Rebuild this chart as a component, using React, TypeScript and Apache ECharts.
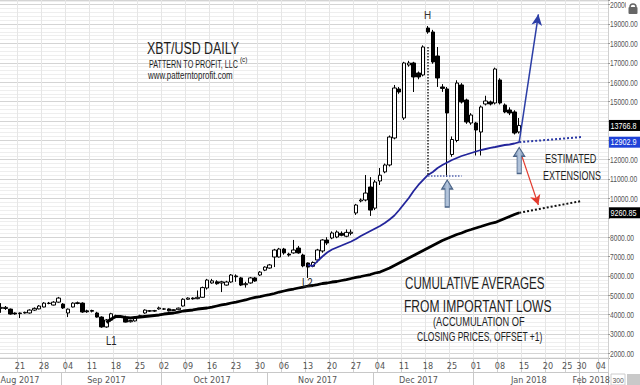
import React, { useEffect, useRef } from "react";
import * as echarts from "echarts";

// ---------- DATA ----------
// Daily candles (trading days only), [open, close, low, high]
const candles: number[][] = [
  [4330, 4380, 4100, 4600], [4320, 4380, 4250, 4450], [4290, 4035, 4000, 4320], [4090, 4040, 4000, 4120],
  [4060, 4090, 3830, 4120], [4090, 4120, 4060, 4160], [4090, 4240, 4060, 4280], [4240, 4330, 4200, 4380],
  [4300, 4450, 4280, 4500], [4400, 4600, 4380, 4650], [4580, 4600, 4540, 4660], [4500, 4650, 4480, 4700],
  [4650, 4860, 4620, 4920], [4550, 4350, 4300, 4600], [4090, 4290, 3880, 4320], [4400, 4600, 4380, 4640],
  [4580, 4620, 4540, 4680], [4600, 4140, 4100, 4640], [4200, 4150, 4100, 4260], [4180, 4220, 4120, 4260],
  [4090, 3880, 3850, 4150], [3880, 3370, 3330, 3920], [3370, 3730, 3330, 3780], [3720, 4050, 3650, 4100],
  [3950, 3880, 3840, 4000], [3880, 3930, 3850, 3980], [3880, 3620, 3600, 3950], [3640, 3700, 3600, 3740],
  [3680, 3880, 3650, 3920], [3900, 3950, 3850, 4000], [4090, 4240, 4050, 4280], [4200, 4190, 4150, 4240],
  [4190, 4210, 4150, 4250], [4300, 4350, 4260, 4420], [4300, 4290, 4250, 4340], [4300, 4200, 4170, 4330],
  [4220, 4260, 4190, 4290], [4260, 4340, 4240, 4370], [4450, 4800, 4420, 4850], [4800, 4860, 4770, 4900],
  [4860, 4820, 4780, 4900], [4830, 4900, 4800, 5250], [4900, 5400, 4880, 5450], [5380, 5790, 5300, 5850],
  [5640, 5750, 5600, 5850], [5700, 5600, 5550, 5780], [5640, 5700, 5170, 5750], [5530, 5690, 5500, 5750],
  [5690, 6050, 5650, 6100], [6000, 5960, 5700, 6080], [5900, 5530, 5480, 5950], [5550, 5600, 5400, 5700],
  [5640, 5900, 5600, 5950], [5900, 5740, 5700, 5950], [6050, 6200, 6000, 6250], [6300, 6460, 6250, 6500],
  [6410, 6570, 6380, 6620], [6980, 7340, 6460, 7400], [6980, 7390, 6950, 7450], [7390, 7190, 7100, 7450],
  [7130, 7080, 7000, 7200], [7190, 7340, 7150, 7860], [7440, 7190, 7150, 7550], [7080, 6520, 6450, 7150],
  [6670, 6460, 5900, 6700], [6500, 6700, 6450, 6750], [6825, 7341, 6700, 7400], [7290, 7857, 7200, 7900],
  [7857, 7700, 7600, 8000], [7960, 8218, 7900, 8300], [8011, 8269, 7950, 8350], [8200, 8100, 8050, 8300],
  [8050, 8250, 8000, 8400], [8200, 8260, 8100, 8400], [9250, 9663, 9150, 9720], [9870, 9920, 9800, 10000],
  [9921, 10280, 9850, 11211], [10590, 9400, 9100, 11100], [9500, 10850, 9400, 10950], [10900, 11200, 10695, 11570],
  [11370, 11727, 11300, 11800], [11727, 13171, 11650, 13250], [13120, 15700, 13050, 15855], [15648, 15493, 15400, 15750],
  [14152, 16990, 14050, 17050], [16887, 16990, 16800, 17100], [16990, 16268, 15493, 17050], [16474, 16268, 16150, 16550],
  [16371, 17815, 16300, 17900], [18795, 18589, 18500, 18900], [18589, 17041, 16950, 18700], [17350, 16216, 15752, 17815],
  [15752, 15680, 15500, 15900], [15650, 14410, 11108, 15750], [12268, 13042, 12150, 13200], [12991, 15958, 12900, 16100],
  [15855, 14978, 14900, 15950], [15081, 13946, 13850, 15150], [13894, 14307, 13800, 14400], [13894, 13532, 12216, 13950],
  [13429, 14720, 12216, 14800], [14874, 15029, 14800, 15300], [14978, 14874, 14800, 15050], [14926, 16680, 14850, 16750],
  [16113, 14926, 14850, 16200], [14823, 14462, 14400, 14900], [14565, 14410, 14300, 14700], [14462, 13378, 13300, 14550],
  [13429, 13767, 13350, 14152],
];

// Cumulative average from L1 (black), starting at candle index 22
const L1_INDEX = 22;
const avgFromL1: number[] = [
  3600, 3780, 3909, 3909, 3858, 3832, 3858, 3883, 3909, 3935, 3961, 3987, 4038, 4064, 4090, 4141,
  4193, 4219, 4245, 4296, 4322, 4348, 4399, 4451, 4503, 4554, 4606, 4657, 4709, 4761, 4838, 4890,
  4941, 4993, 5044, 5096, 5173, 5225, 5277, 5328, 5380, 5431, 5483, 5509, 5560, 5612, 5638, 5689,
  5715, 5767, 5818, 5870, 5922, 5973, 6025, 6076, 6154, 6205, 6309, 6412, 6541, 6670, 6799, 6928,
  7057, 7186, 7315, 7444, 7573, 7702, 7831, 7934, 8037, 8140, 8218, 8321, 8398, 8476, 8553, 8631,
  8708, 8760, 8863, 8966, 9069, 9172, 9260.85,
];

// Cumulative average from L2 (blue), starting at candle index 64
const L2_INDEX = 64;
const avgFromL2: number[] = [
  6560, 6515, 6773, 7006, 7212, 7367, 7470, 7573, 7676, 7779, 7908, 8063, 8192, 8321, 8450, 8579,
  8734, 8914, 9120, 9404, 9714, 10024, 10385, 10695, 10953, 11211, 11366, 11572, 11727, 11856, 11985,
  12088, 12191, 12268, 12346, 12423, 12500, 12552, 12604, 12655, 12707, 12758, 12784, 12836, 12902.9,
];

const peakIndex = 89;
const peakLevel = 17815;
const supportLevel = 11159;
const supportEndIndex = 96;
const extEndIndex = 121;
const blueExt = [12902.9, 13170];
const blackExt = [9260.85, 9869];
const arrowEndIndex = 112;
const blueArrowTarget = 19500;
const redArrowStart = 12600;
const redArrowTarget = 9660;
const upArrow1 = { index: 93, level: 10256 };
const upArrow2 = { index: 108, level: 11959 };

// Right-axis price labels (14000, 13000 and 9000 are hidden behind the price boxes)
const yTickValues = [2000, 3000, 4000, 5000, 6000, 7000, 8000, 10000, 11000, 12000, 15000, 16000, 17000, 18000, 19000, 20000];
const priceBoxes = [
  { value: 13766.8, text: "13766.8", bg: "#000000" },
  { value: 12902.9, text: "12902.9", bg: "#1f42d8" },
  { value: 9260.85, text: "9260.85", bg: "#000000" },
];

// Axis tick labels
const weekTickIdx = [4, 9, 14, 19, 24, 29, 34, 39, 44, 49, 54, 59, 64, 69, 74, 79, 84, 89, 94, 99, 104, 109, 114, 118, 121, 125];
const weekTickText = ["21", "28", "04", "11", "18", "25", "02", "09", "16", "23", "30", "06", "13", "20", "27", "04", "11", "18", "25", "01", "08", "15", "20", "25", "30", "04"];
const monthLabelIdx = [4, 22, 44, 66, 87, 110, 123];
const monthLabelText = ["Aug 2017", "Sep 2017", "Oct 2017", "Nov 2017", "Dec 2017", "Jan 2018", "Feb 2018"];
const monthSepIdx = [13, 34, 56, 78, 99, 121];

const CATEGORY_COUNT = 127;
function buildDays(): string[] {
  const out: string[] = [];
  let t = Date.UTC(2017, 7, 15);
  while (out.length < CATEGORY_COUNT) {
    const d = new Date(t);
    const wd = d.getUTCDay();
    if (wd !== 0 && wd !== 6) out.push(d.toISOString().slice(0, 10));
    t += 86400000;
  }
  return out;
}

const NARROW = "'Liberation Sans Narrow', 'Arial Narrow', 'DejaVu Sans Condensed', sans-serif";
const SANS = "'Liberation Sans', Arial, sans-serif";
const ARROW_PATH = "path://M5,0 L10,9 L7,9 L7,27 L3,27 L3,9 L0,9 Z";

function pad(start: number, vals: number[]): (number | string)[] {
  const out: (number | string)[] = [];
  for (let i = 0; i < start; i++) out.push("-");
  return out.concat(vals);
}

function txt(text: string, x: number, y: number, size: number, sx: number, fill = "#1e1e1e", z = 10) {
  return {
    type: "text",
    x,
    y,
    scaleX: sx,
    silent: true,
    z,
    style: {
      text,
      font: `${size}px ${SANS}`,
      fill,
      align: "left",
      verticalAlign: "middle",
    },
  };
}

export default function App() {
  const ref = useRef<HTMLDivElement>(null);
  useEffect(() => {
    if (!ref.current) return;
    const chart = echarts.init(ref.current, null, { renderer: "svg" });
    const days = buildDays();
    const weekMap: Record<number, string> = {};
    weekTickIdx.forEach((v, i) => (weekMap[v] = weekTickText[i]));
    const monthMap: Record<number, string> = {};
    monthLabelIdx.forEach((v, i) => (monthMap[v] = monthLabelText[i]));
    const sepSet = new Set(monthSepIdx);

    const dotted = (color: string, width: number) => ({ type: "dotted", color, width, opacity: 1 });

    const staticGraphics: any[] = [
      txt("XBT/USD DAILY", 147, 48, 16, 0.775),
      txt("PATTERN TO PROFIT, LLC", 149, 64, 11, 0.655),
      txt("(c)", 240, 59, 7.5, 0.85),
      txt("www.patterntoprofit.com", 148, 76, 10, 0.79),
      txt("H", 424, 15, 11, 0.9, "#333"),
      txt("L1", 106, 341, 12, 0.8, "#222"),
      txt("L2", 302, 283, 12, 0.8, "#222"),
      txt("ESTIMATED", 545, 158, 12, 0.76),
      txt("EXTENSIONS", 543, 175, 12, 0.75),
      txt("CUMULATIVE AVERAGES", 405, 283, 16, 0.726),
      txt("FROM IMPORTANT LOWS", 404, 306, 16, 0.755),
      txt("(ACCUMULATION OF", 433, 322, 12, 0.77),
      txt("CLOSING PRICES, OFFSET +1)", 417, 337, 12, 0.71),
      // lock icon at top right
      { type: "rect", z: 100, silent: true, shape: { x: 626, y: 0, width: 14, height: 14 }, style: { fill: "#ffffff" } },
      { type: "arc", z: 101, silent: true, shape: { cx: 633, cy: 7, r: 3, startAngle: Math.PI, endAngle: 2 * Math.PI }, style: { stroke: "#666", lineWidth: 1.5, fill: "none" } },
      { type: "rect", z: 101, silent: true, shape: { x: 628.5, y: 7, width: 9, height: 7, r: 1 }, style: { fill: "#666" } },
      // bottom-right control
      { type: "rect", z: 100, silent: true, shape: { x: 610, y: 373, width: 30, height: 12 }, style: { fill: "#ffffff" } },
      { type: "rect", z: 101, silent: true, shape: { x: 611, y: 374, width: 14, height: 11 }, style: { fill: "#fff", stroke: "#cccccc", lineWidth: 1 } },
      txt("300", 612.5, 380, 8, 0.85, "#555", 102),
      { type: "rect", z: 101, silent: true, shape: { x: 627, y: 374, width: 13, height: 11 }, style: { fill: "#c9c9c9" } },
    ];

    const option: any = {
      animation: false,
      backgroundColor: "#ffffff",
      grid: { left: -1.6, top: 0, width: 609.6, height: 358, outerBoundsMode: "none", containLabel: false },
      xAxis: [
        {
          type: "category",
          data: days,
          boundaryGap: true,
          position: "bottom",
          axisLine: { show: true, lineStyle: { color: "#c8c8c8" } },
          axisTick: { show: true, length: 14, interval: (i: number) => i in weekMap, lineStyle: { color: "#d0d0d0" } },
          axisLabel: {
            show: true,
            interval: (i: number) => i in weekMap,
            formatter: (_v: string, i: number) => weekMap[i] || "",
            margin: 3,
            fontSize: 9,
            color: "#555",
            fontFamily: NARROW,
          },
          splitLine: { show: true, interval: (i: number) => i in weekMap, lineStyle: { color: "#e6e6e6" } },
        },
        {
          type: "category",
          data: days,
          boundaryGap: true,
          position: "bottom",
          offset: 14,
          axisLine: { show: true, lineStyle: { color: "#c8c8c8" } },
          axisTick: { show: true, length: 13, interval: (i: number) => sepSet.has(i), lineStyle: { color: "#c8c8c8" } },
          axisLabel: {
            show: true,
            interval: (i: number) => i in monthMap,
            formatter: (_v: string, i: number) => monthMap[i] || "",
            margin: 3,
            fontSize: 9,
            color: "#555",
            fontFamily: NARROW,
          },
          splitLine: { show: false },
        },
      ],
      yAxis: {
        type: "value",
        position: "right",
        min: 1768,
        max: 20240,
        splitNumber: 18,
        axisLine: { show: true, lineStyle: { color: "#d0d0d0" } },
        axisTick: { show: true, length: 2, lineStyle: { color: "#999" } },
        axisLabel: { show: false },
        splitLine: { show: true, lineStyle: { color: "#d4d4d4" } },
        minorTick: { show: false, splitNumber: 5 },
        minorSplitLine: { show: true, lineStyle: { color: "#eeeeee" } },
      },
      series: [
        {
          type: "candlestick",
          name: "XBT/USD",
          data: candles,
          barWidth: 4,
          itemStyle: { color: "#ffffff", color0: "#000000", borderColor: "#000000", borderColor0: "#000000", borderWidth: 1 },
          markLine: {
            silent: true,
            symbol: "none",
            label: { show: false },
            data: [
              [
                { coord: [peakIndex, peakLevel], lineStyle: dotted("#222", 1.5) },
                { coord: [peakIndex, supportLevel], lineStyle: dotted("#222", 1.5) },
              ],
              [
                { coord: [peakIndex, supportLevel], lineStyle: dotted("#5565b0", 1.5) },
                { coord: [supportEndIndex, supportLevel], lineStyle: dotted("#5565b0", 1.5) },
              ],
              [
                { coord: [candles.length - 1, blueExt[0]], lineStyle: dotted("#2c3aa6", 2) },
                { coord: [extEndIndex, blueExt[1]], lineStyle: dotted("#2c3aa6", 2) },
              ],
              [
                { coord: [candles.length - 1, blackExt[0]], lineStyle: dotted("#111", 2) },
                { coord: [extEndIndex, blackExt[1]], lineStyle: dotted("#111", 2) },
              ],
              [
                { coord: [candles.length - 1, blueExt[0]], symbol: "none", lineStyle: { type: "solid", color: "#2c3ea6", width: 1.5 } },
                { coord: [arrowEndIndex, blueArrowTarget], symbol: "arrow", symbolSize: [8, 11], lineStyle: { type: "solid", color: "#2c3ea6", width: 1.5 } },
              ],
              [
                { coord: [candles.length - 1, redArrowStart], symbol: "none", lineStyle: { type: "solid", color: "#e23b2e", width: 1.2 } },
                { coord: [arrowEndIndex, redArrowTarget], symbol: "arrow", symbolSize: [8, 10], lineStyle: { type: "solid", color: "#e23b2e", width: 1.2 } },
              ],
            ],
          },
          markPoint: {
            silent: true,
            symbol: ARROW_PATH,
            symbolKeepAspect: false,
            label: { show: false },
            itemStyle: {
              color: new echarts.graphic.LinearGradient(0, 0, 1, 0, [
                { offset: 0, color: "#6c86aa" },
                { offset: 0.5, color: "#b7c8de" },
                { offset: 1, color: "#6c86aa" },
              ]),
              borderColor: "#4a6386",
              borderWidth: 1,
            },
            data: [
              { coord: [upArrow1.index, upArrow1.level], symbolSize: [11, 27] },
              { coord: [upArrow2.index, upArrow2.level], symbolSize: [11, 26] },
            ],
          },
        },
        {
          type: "line",
          name: "Cumulative average from L2",
          data: pad(L2_INDEX, avgFromL2),
          symbol: "none",
          lineStyle: { color: "#23259b", width: 1.8 },
          z: 3,
        },
        {
          type: "line",
          name: "Cumulative average from L1",
          data: pad(L1_INDEX, avgFromL1),
          symbol: "none",
          lineStyle: { color: "#000000", width: 2.8 },
          z: 3,
        },
      ],
      graphic: staticGraphics,
    };
    chart.setOption(option);

    // Right-axis labels and price boxes, placed through the y axis scale
    const extra: any[] = [];
    yTickValues.forEach((v) => {
      const y = chart.convertToPixel({ yAxisIndex: 0 }, v) as number;
      extra.push(txt(v.toFixed(2), 610, y + 0.5, 9, 0.74, "#555", 50));
    });
    priceBoxes.forEach((b) => {
      const y = chart.convertToPixel({ yAxisIndex: 0 }, b.value) as number;
      extra.push({ type: "rect", z: 110, silent: true, shape: { x: 609, y: y - 5.5, width: 31, height: 11 }, style: { fill: b.bg } });
      extra.push(txt(b.text, 610.5, y + 0.5, 9, 0.8, "#ffffff", 111));
    });
    chart.setOption({ graphic: staticGraphics.concat(extra) }, { replaceMerge: ["graphic"] });
    return () => chart.dispose();
  }, []);
  return <div ref={ref} style={{ position: "fixed", left: 0, top: 0, width: 640, height: 385 }} />;
}
